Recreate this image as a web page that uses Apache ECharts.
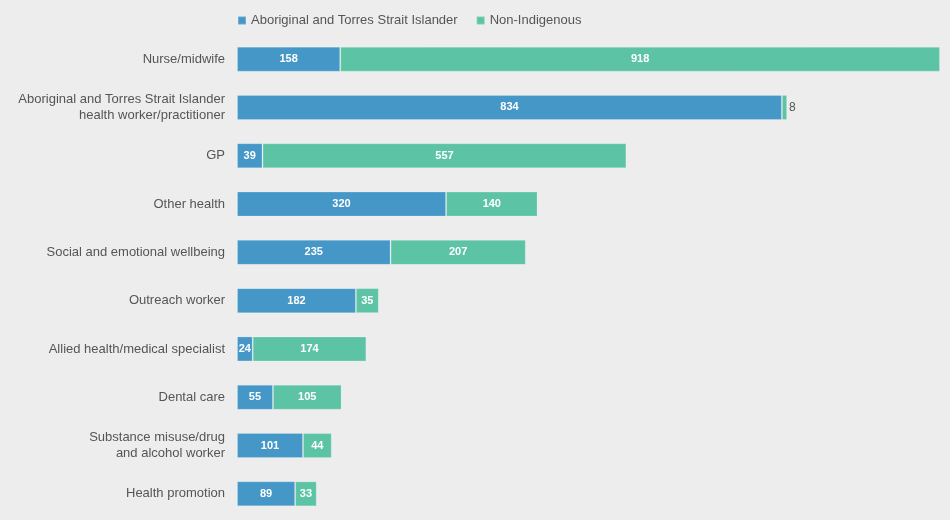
<!DOCTYPE html>
<html><head><meta charset="utf-8">
<script src="https://cdn.jsdelivr.net/npm/echarts@6/dist/echarts.min.js"></script>
<style>html,body{margin:0;padding:0;background:#ecedec;}#c{width:950px;height:520px;}</style>
</head><body><div id="c"></div>
<script>
const categories = ["Nurse/midwife","Aboriginal and Torres Strait Islander\nhealth worker/practitioner","GP","Other health","Social and emotional wellbeing","Outreach worker","Allied health/medical specialist","Dental care","Substance misuse/drug\nand alcohol worker","Health promotion"];
const indigenous = [158,834,39,320,235,182,24,55,101,89];
const nonIndigenous = [918,8,557,140,207,35,174,105,44,33];
const seriesNames = ["Aboriginal and Torres Strait Islander","Non-Indigenous"];

const chart = echarts.init(document.getElementById('c'));
const lbl = {show:true, position:'inside', color:'#fff', fontWeight:'bold', fontSize:11, fontFamily:'Liberation Sans, Arial, sans-serif'};
chart.setOption({
  backgroundColor:'#ecedec',
  animation:false,
  legend:{top:9,left:232,itemWidth:8,itemHeight:8,itemGap:18,icon:'rect',
    textStyle:{color:'#555',fontSize:13,fontFamily:'Liberation Sans, Arial, sans-serif'},
    data:seriesNames},
  grid:{left:237,right:10,top:35,bottom:2,containLabel:false},
  xAxis:{type:'value',min:0,max:1076,show:false},
  yAxis:{type:'category',inverse:true,data:categories,
    axisLine:{show:false},axisTick:{show:false},
    axisLabel:{color:'#555',fontSize:13,margin:12,lineHeight:16,fontFamily:'Liberation Sans, Arial, sans-serif'}},
  series:[
    {name:seriesNames[0],type:'bar',stack:'a',barWidth:25,data:indigenous,
      itemStyle:{color:'#4597c8',borderColor:'rgba(255,255,255,0.2)',borderWidth:1},label:lbl},
    {name:seriesNames[1],type:'bar',stack:'a',barWidth:25,
      data:nonIndigenous.map(v=> v<15 ? {value:v,label:{position:'right',color:'#555',fontWeight:'normal',fontSize:12,distance:2}} : v),
      itemStyle:{color:'#5cc4a4',borderColor:'rgba(255,255,255,0.2)',borderWidth:1},label:lbl}
  ]
});
</script></body></html>
